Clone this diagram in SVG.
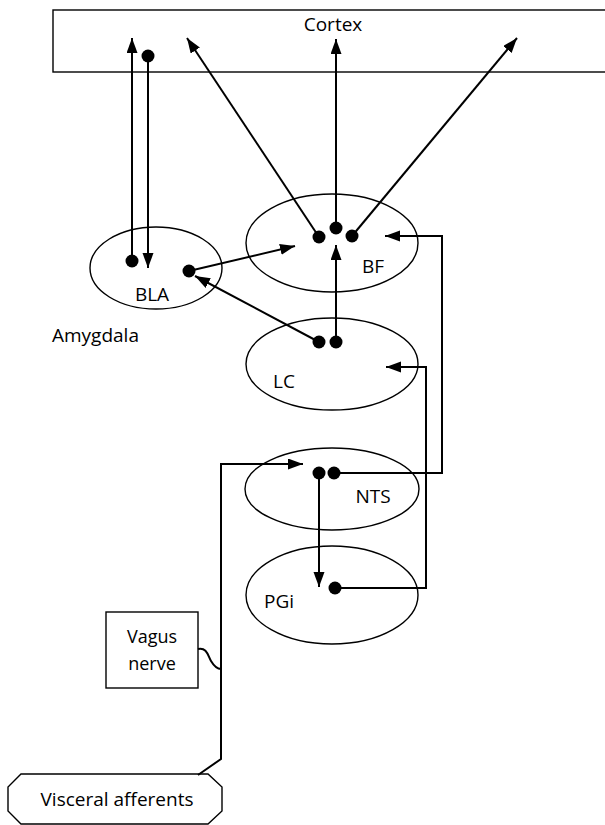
<svg xmlns="http://www.w3.org/2000/svg" width="605" height="825" viewBox="0 0 605 825">
<style>
.shape{fill:#fff;stroke:#000;stroke-width:1.4}
.lbl{font-family:"Open Sans","Noto Sans",sans-serif;font-size:19px;fill:#000}
.sm{font-size:18px}
.c{fill:none;stroke:#000;stroke-width:2}
.dot{fill:#000}
</style>
<defs>
<marker id="ah" markerUnits="userSpaceOnUse" markerWidth="16" markerHeight="12" refX="15" refY="5.5" orient="auto">
<path d="M0,0 L15,5.5 L0,11 z" fill="#000"/>
</marker>
</defs>
<g id="cortex">
<rect class="shape" x="53" y="10" width="570" height="62"/>
<text class="lbl" x="333" y="31" text-anchor="middle">Cortex</text>
</g>
<g id="bla">
<ellipse class="shape" cx="156" cy="268" rx="66" ry="41"/>
<text class="lbl" x="152" y="301" text-anchor="middle">BLA</text>
</g>
<g id="amygdala">
<text class="lbl" x="52" y="342">Amygdala</text>
</g>
<g id="bf">
<ellipse class="shape" cx="332" cy="243" rx="86" ry="49"/>
<text class="lbl" x="373" y="273" text-anchor="middle">BF</text>
</g>
<g id="lc">
<ellipse class="shape" cx="332" cy="364" rx="86" ry="46"/>
<text class="lbl" x="284" y="388" text-anchor="middle">LC</text>
</g>
<g id="nts">
<ellipse class="shape" cx="332" cy="489" rx="87" ry="41"/>
<text class="lbl" x="373" y="503" text-anchor="middle">NTS</text>
</g>
<g id="pgi">
<ellipse class="shape" cx="332" cy="595" rx="86" ry="49"/>
<text class="lbl" x="279" y="608" text-anchor="middle">PGi</text>
</g>
<g id="vagus">
<rect class="shape" x="106" y="612" width="92" height="76"/>
<text class="lbl sm" x="152" y="643" text-anchor="middle">Vagus</text>
<text class="lbl sm" x="152" y="670" text-anchor="middle">nerve</text>
</g>
<g id="visceral">
<path class="shape" d="M21,774 L208,774 L222,787 L222,811 L208,824 L21,824 L8,811 L8,787 z"/>
<text class="lbl" x="117" y="806" text-anchor="middle">Visceral afferents</text>
</g>
<g id="connectors">
<line class="c" x1="132" y1="261" x2="132" y2="38" marker-end="url(#ah)"/>
<line class="c" x1="148" y1="56" x2="148" y2="268" marker-end="url(#ah)"/>
<line class="c" x1="319" y1="237" x2="187" y2="38" marker-end="url(#ah)"/>
<line class="c" x1="336" y1="228" x2="336" y2="39" marker-end="url(#ah)"/>
<line class="c" x1="352" y1="236" x2="517" y2="38" marker-end="url(#ah)"/>
<line class="c" x1="189" y1="271" x2="295" y2="246" marker-end="url(#ah)"/>
<line class="c" x1="319" y1="342" x2="195" y2="276" marker-end="url(#ah)"/>
<line class="c" x1="336" y1="342" x2="336" y2="245" marker-end="url(#ah)"/>
<polyline class="c" points="334,473 442,473 442,236 385,236" marker-end="url(#ah)"/>
<polyline class="c" points="335,588 426,588 426,367 386,367" marker-end="url(#ah)"/>
<line class="c" x1="319" y1="473" x2="319" y2="587" marker-end="url(#ah)"/>
<polyline class="c" points="198,775 221,759 221,464 303,464" marker-end="url(#ah)"/>
<path class="c" d="M198,649 C207,647 208,656 211,661 C214,666 217,669 221,669" stroke-width="1.5"/>
<circle class="dot" cx="148" cy="56" r="6.5"/>
<circle class="dot" cx="132" cy="261" r="6.5"/>
<circle class="dot" cx="189" cy="271" r="6.5"/>
<circle class="dot" cx="319" cy="237" r="6.5"/>
<circle class="dot" cx="336" cy="228" r="6.5"/>
<circle class="dot" cx="352" cy="236" r="6.5"/>
<circle class="dot" cx="319" cy="342" r="6.5"/>
<circle class="dot" cx="336" cy="342" r="6.5"/>
<circle class="dot" cx="319" cy="473" r="6.5"/>
<circle class="dot" cx="334" cy="473" r="6.5"/>
<circle class="dot" cx="335" cy="588" r="6.5"/>
</g>
</svg>
